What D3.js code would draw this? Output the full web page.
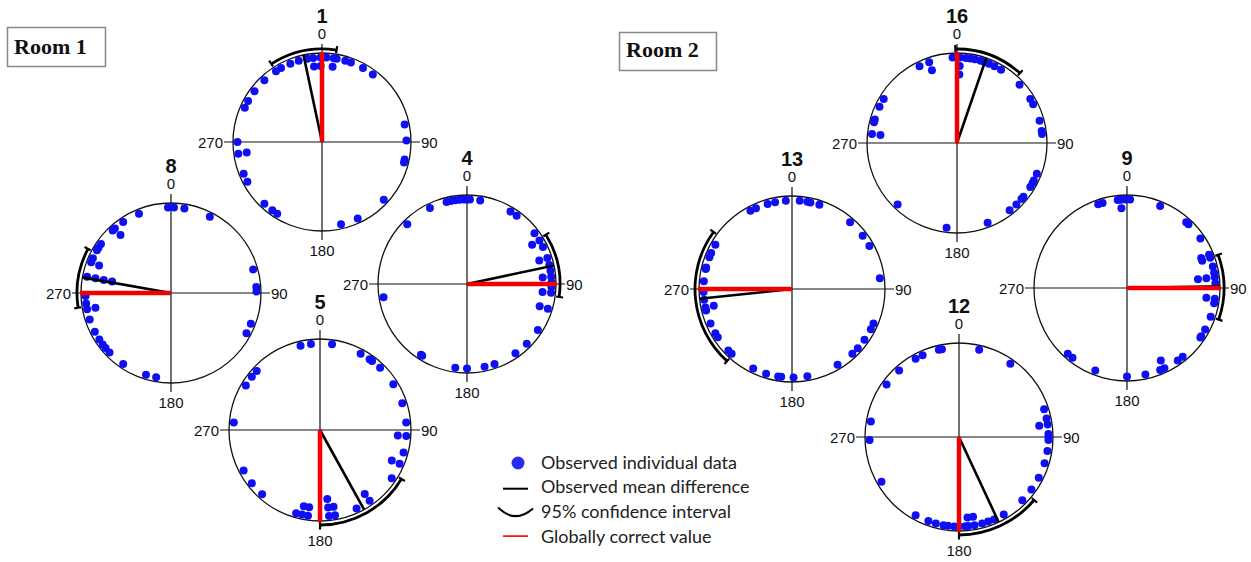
<!DOCTYPE html>
<html>
<head>
<meta charset="utf-8">
<script src="https://cdn.jsdelivr.net/npm/d3@7"></script>
<style>
  html, body { margin: 0; padding: 0; background: #fff; }
  svg { display: block; }
</style>
</head>
<body>
<svg id="chart" width="1251" height="562"></svg>
<script>
// ---------------- DATA ----------------
const panelIds      = ["1", "8", "4", "5", "16", "13", "9", "12"];
const correctValues = [0, 270, 90, 180, 0, 270, 90, 180];
const meanValues    = [348, 280, 78, 151, 19, 264, 89, 155];
const ciLower       = [327, 261, 58, 121, 359, 222, 70, 130];
const ciUpper       = [9, 298, 98, 180, 42, 306, 109, 180];

const obs1  = [327, 331, 338, 344, 350, 354, 354, 359, 359, 3, 8, 8, 10, 16, 20, 29, 37, 317, 307, 299, 294,
               78, 89, 102, 104, 270, 262, 262, 248, 242, 223, 216, 212, 167, 155, 133];
const obs8  = [358, 2, 9, 27, 338, 326, 319, 319, 317, 305, 302, 300, 294, 291, 291, 281, 281, 281, 281,
               268, 263, 259, 259, 252, 243, 237, 233, 230, 226, 214, 197, 190, 74, 86, 89, 111, 118];
const obs4  = [346, 349, 352, 355, 358, 0, 2, 9, 334, 315, 31, 36, 53, 59, 59, 64, 72, 72, 77, 81, 85, 85,
               89, 92, 96, 96, 107, 107, 123, 135, 145, 161, 168, 180, 188, 212, 213, 261];
const obs5  = [347, 354, 8, 28, 35, 37, 44, 58, 72, 85, 94, 94, 105, 113, 113, 124, 145, 145, 155,
               174, 174, 174, 170, 170, 188, 188, 192, 192, 196, 275, 242, 232, 222, 301, 308, 313];
const obs16 = [357, 2, 2, 2, 6, 9, 12, 16, 19, 22, 26, 31, 341, 341, 334, 47, 59, 63, 75, 82, 84,
               111, 116, 118, 121, 129, 131, 136, 142, 159, 187, 224, 276, 276, 284, 286, 295, 301];
const obs13 = [332, 336, 344, 349, 356, 5, 10, 12, 18, 41, 53, 61, 83, 113, 117, 125, 132, 137, 149, 170,
               179, 187, 189, 197, 206, 223, 226, 237, 240, 247, 256, 258, 258, 263, 268, 275, 283, 284, 291, 294, 300];
const obs9  = [341, 344, 354, 356, 356, 359, 2, 22, 42, 44, 56, 68, 68, 70, 70, 76, 80, 83, 83, 83, 87,
               97, 97, 100, 109, 118, 123, 124, 141, 145, 155, 155, 158, 168, 180, 201, 218, 222];
const obs12 = [347, 349, 13, 35, 336, 331, 318, 306, 280, 268, 240, 72, 78, 82, 82, 88, 90, 92, 99, 107,
               117, 126, 135, 150, 157, 161, 165, 170, 170, 174, 174, 176, 180, 183, 187, 190, 195, 200, 209];
const observations = [obs1, obs8, obs4, obs5, obs16, obs13, obs9, obs12];

const axisTicks   = [0, 90, 180, 270];
const roomLabels  = ["Room 1", "Room 2"];
const legendLabels = ["Observed individual data", "Observed mean difference",
                      "95% confidence interval", "Globally correct value"];

// ---------------- LAYOUT ----------------
const panelLayout = [
  {cx: 322, cy: 142, r: 89},
  {cx: 171, cy: 293, r: 90},
  {cx: 467, cy: 284, r: 89},
  {cx: 320, cy: 430, r: 91},
  {cx: 957, cy: 143, r: 90},
  {cx: 792, cy: 289, r: 93},
  {cx: 1127, cy: 288, r: 93},
  {cx: 959, cy: 437, r: 94}
];
const roomLayout = [
  {x: 7.5, y: 27.5, w: 98, h: 39, tx: 14, ty: 54},
  {x: 619.5, y: 32.5, w: 97, h: 38, tx: 626, ty: 57}
];
const legendLayout = {x: 503, y: 463, dy: 24.7, tx: 541};

const BLUE = "#0f0ff5";
const svg = d3.select("#chart");
const ang = d3.scaleLinear().domain([0, 360]).range([0, 2 * Math.PI]);

function polar(cx, cy, rad, deg) {
  const t = ang(deg);
  return [cx + rad * Math.sin(t), cy - rad * Math.cos(t)];
}

function stackPoints(angles) {
  const counts = new Map();
  return angles.map(a => {
    const k = Math.round(((a % 360) + 360) % 360) % 360;
    const lvl = counts.get(k) || 0;
    counts.set(k, lvl + 1);
    return {a, lvl};
  });
}

panelIds.forEach((id, i) => {
  const L = panelLayout[i];
  const g = svg.append("g").attr("transform", `translate(${L.cx},${L.cy})`);
  const r = L.r;
  const ext = r + 9;
  const rad = d3.scaleLinear().domain([0, 1]).range([0, r]);

  // circle
  g.append("circle").attr("r", rad(1)).attr("fill", "none")
    .attr("stroke", "#111").attr("stroke-width", 1.3);

  // cross axes
  axisTicks.forEach(t => {
    const [x, y] = polar(0, 0, ext, t);
    g.append("line").attr("x1", 0).attr("y1", 0).attr("x2", x).attr("y2", y)
      .attr("stroke", "#111").attr("stroke-width", 1.2);
  });

  // tick labels
  axisTicks.forEach(t => {
    const lab = g.append("text").text(t)
      .attr("font-family", "'Liberation Sans', Arial, sans-serif")
      .attr("font-size", 15).attr("fill", "#111");
    if (t === 0) {
      lab.attr("x", 0).attr("y", -(r + 14)).attr("text-anchor", "middle");
    } else if (t === 180) {
      lab.attr("x", 0).attr("y", r + 25).attr("text-anchor", "middle");
    } else if (t === 90) {
      lab.attr("x", r + 10).attr("y", 5.5).attr("text-anchor", "start");
    } else {
      lab.attr("x", -(r + 10)).attr("y", 5.5).attr("text-anchor", "end");
    }
  });

  // title
  g.append("text").text(id)
    .attr("x", 0).attr("y", -(r + 30))
    .attr("text-anchor", "middle")
    .attr("font-family", "'Liberation Sans Narrow', 'Arial Narrow', 'Liberation Sans', sans-serif")
    .attr("font-weight", "bold").attr("font-size", 20).attr("fill", "#111");

  // observed points
  const pts = stackPoints(observations[i]);
  g.selectAll("circle.obs").data(pts).enter().append("circle")
    .attr("class", "obs")
    .attr("cx", d => polar(0, 0, r - 4.5 - d.lvl * 8.5, d.a)[0])
    .attr("cy", d => polar(0, 0, r - 4.5 - d.lvl * 8.5, d.a)[1])
    .attr("r", 4).attr("fill", BLUE);

  // mean line
  const [mx, my] = polar(0, 0, r, meanValues[i]);
  g.append("line").attr("x1", 0).attr("y1", 0).attr("x2", mx).attr("y2", my)
    .attr("stroke", "#000").attr("stroke-width", 2.6);

  // correct value line
  const [cxv, cyv] = polar(0, 0, r + 1, correctValues[i]);
  g.append("line").attr("x1", 0).attr("y1", 0).attr("x2", cxv).attr("y2", cyv)
    .attr("stroke", "#f00000").attr("stroke-width", 4.5);

  // confidence interval arc
  let lo = ciLower[i], hi = ciUpper[i];
  if (hi < lo) hi += 360;
  const arcR = r + 4;
  const arc = d3.arc().innerRadius(arcR - 1.4).outerRadius(arcR + 1.4)
    .startAngle(ang(lo)).endAngle(ang(hi));
  g.append("path").attr("d", arc()).attr("fill", "#000");
  [lo, hi].forEach(a => {
    const [x1, y1] = polar(0, 0, arcR - 3, a);
    const [x2, y2] = polar(0, 0, arcR + 4, a);
    g.append("line").attr("x1", x1).attr("y1", y1).attr("x2", x2).attr("y2", y2)
      .attr("stroke", "#000").attr("stroke-width", 2.2);
  });
});

// room labels
roomLabels.forEach((t, i) => {
  const R = roomLayout[i];
  svg.append("rect").attr("x", R.x).attr("y", R.y).attr("width", R.w).attr("height", R.h)
    .attr("fill", "#fff").attr("stroke", "#888").attr("stroke-width", 1.5);
  svg.append("text").text(t).attr("x", R.tx).attr("y", R.ty)
    .attr("font-family", "'Liberation Serif', 'Times New Roman', serif")
    .attr("font-weight", "bold").attr("font-size", 22).attr("fill", "#111");
});

// legend
const lg = svg.append("g").attr("transform", `translate(${legendLayout.x},${legendLayout.y})`);
legendLabels.forEach((t, i) => {
  lg.append("text").text(t)
    .attr("x", legendLayout.tx - legendLayout.x).attr("y", i * legendLayout.dy + 5.5)
    .attr("font-family", "Lato, 'Open Sans', sans-serif")
    .attr("font-size", 18).attr("fill", "#222");
});
lg.append("circle").attr("cx", 15).attr("cy", 0).attr("r", 6.5).attr("fill", "#2a2af5");
lg.append("line").attr("x1", 0).attr("x2", 25).attr("y1", legendLayout.dy + 1).attr("y2", legendLayout.dy + 1)
  .attr("stroke", "#000").attr("stroke-width", 2);
const ap = d3.path();
ap.moveTo(-5, 2 * legendLayout.dy - 5);
ap.quadraticCurveTo(12, 2 * legendLayout.dy + 12, 30, 2 * legendLayout.dy - 4);
lg.append("path").attr("d", ap.toString()).attr("fill", "none")
  .attr("stroke", "#000").attr("stroke-width", 2);
lg.append("line").attr("x1", 0).attr("x2", 25).attr("y1", 3 * legendLayout.dy - 1).attr("y2", 3 * legendLayout.dy - 1)
  .attr("stroke", "#f00000").attr("stroke-width", 1.6);
</script>
</body>
</html>
